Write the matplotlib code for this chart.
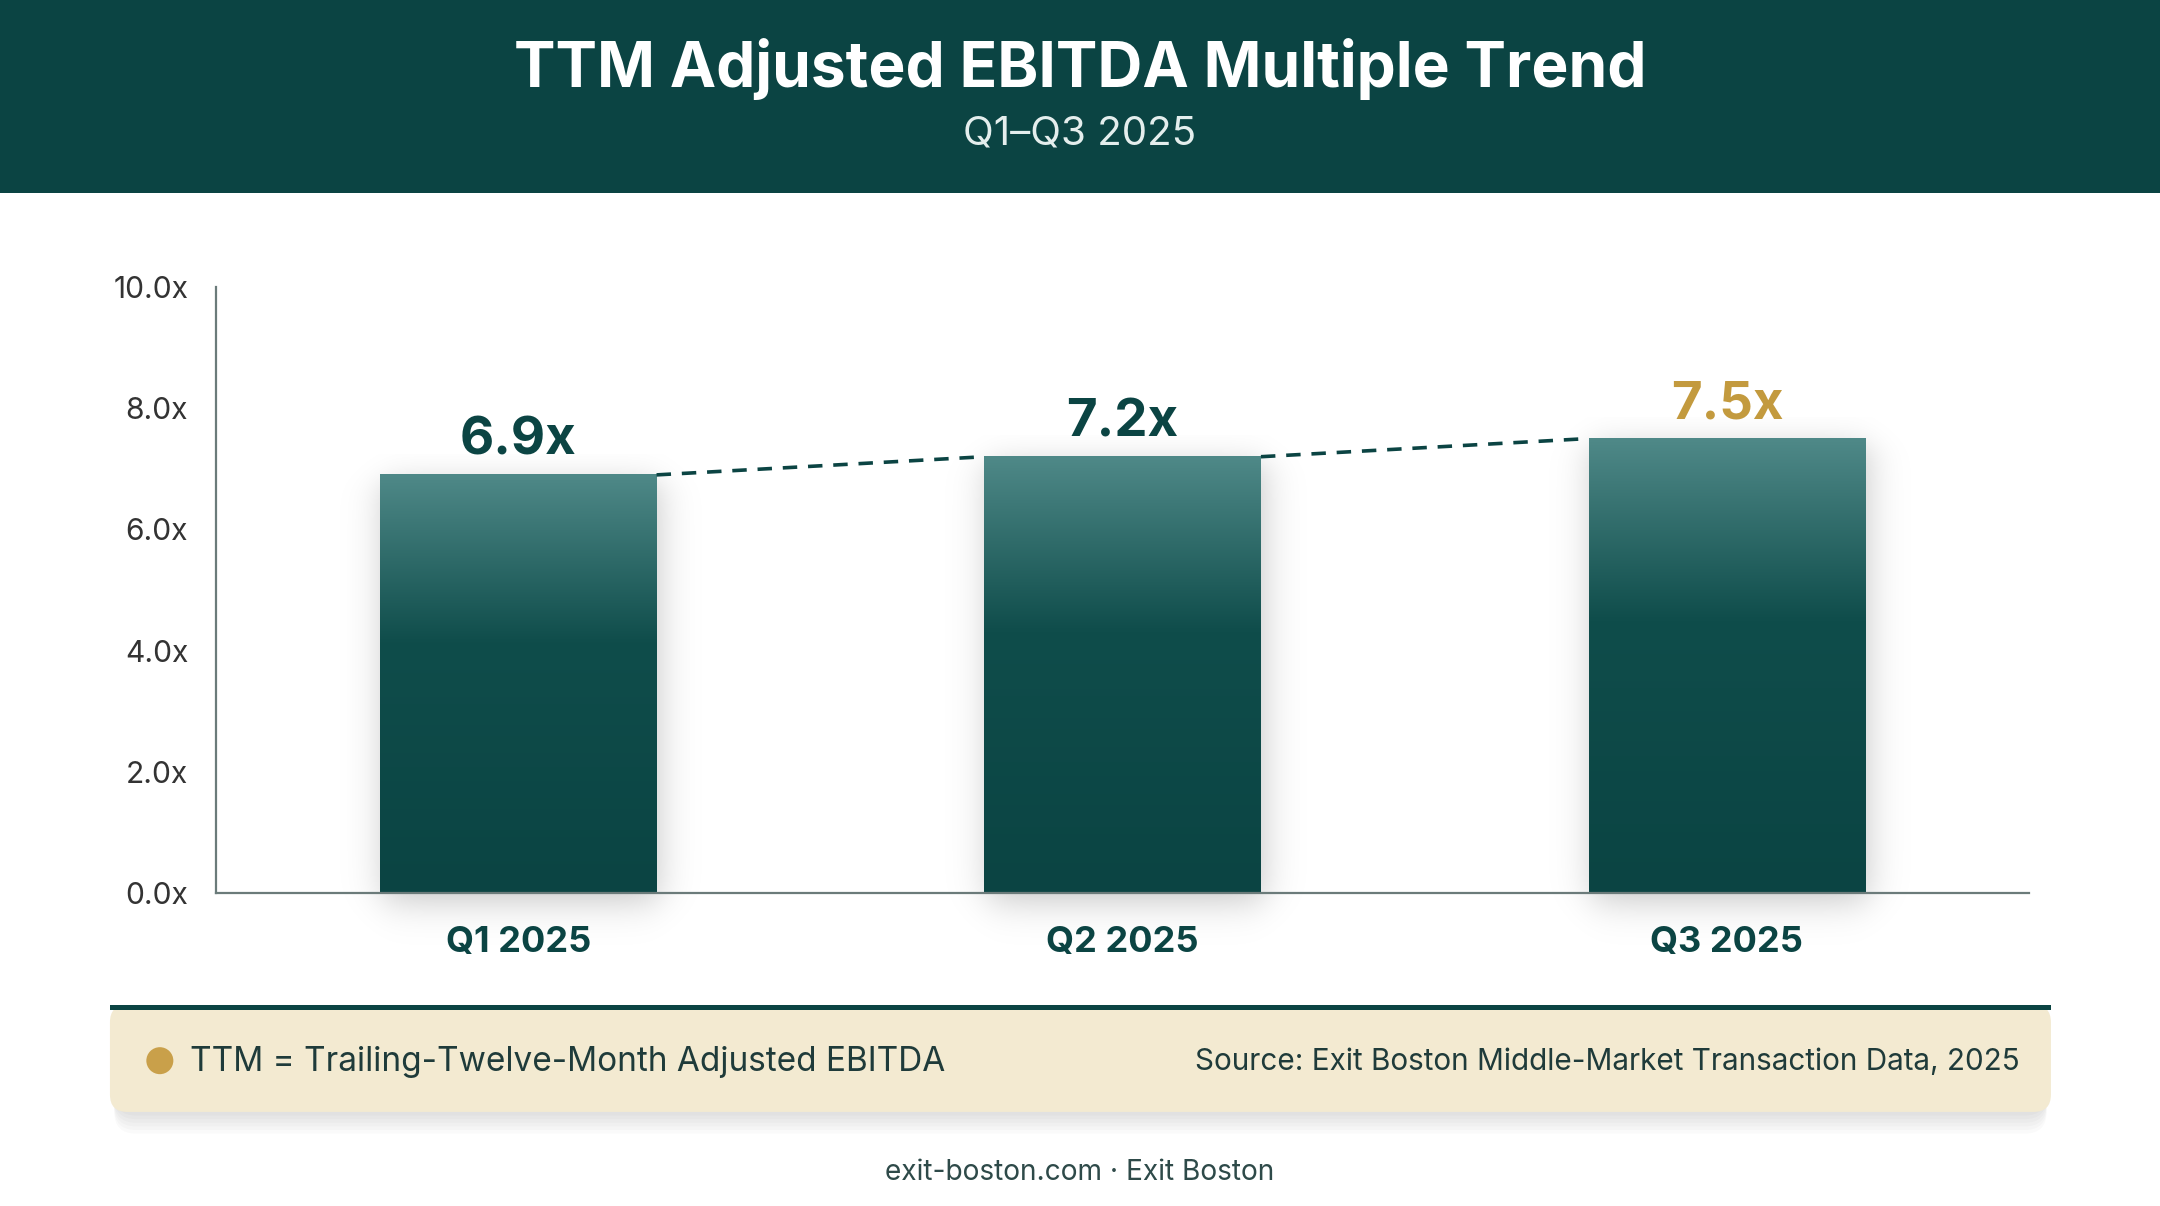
import numpy as np
import matplotlib.pyplot as plt
from matplotlib.colors import LinearSegmentedColormap
from matplotlib.patches import Rectangle, FancyBboxPatch, Ellipse

# Data
quarters = ['Q1 2025', 'Q2 2025', 'Q3 2025']
multiples = [6.9, 7.2, 7.5]
value_labels = ['6.9x', '7.2x', '7.5x']
yticks = [0, 2, 4, 6, 8, 10]
ytick_labels = ['0.0x', '2.0x', '4.0x', '6.0x', '8.0x', '10.0x']

title = 'TTM Adjusted EBITDA Multiple Trend'
subtitle = 'Q1\u2013Q3 2025'
note = 'TTM = Trailing-Twelve-Month Adjusted EBITDA'
source = 'Source: Exit Boston Middle-Market Transaction Data, 2025'
footer = 'exit-boston.com \u00b7 Exit Boston'

# Colours
teal = '#0B4443'
teal_light = '#4F8988'
gold = '#C39A3E'
cream = '#F3EAD1'
text_dark = '#1F3B3A'

plt.rcParams['font.family'] = ['Inter', 'DejaVu Sans']

W, H = 2160, 1206
fig = plt.figure(figsize=(W / 200, H / 200), dpi=200)
fig.patch.set_facecolor('white')

# Header band
fig.add_artist(Rectangle((0, 0.84), 1, 0.16, transform=fig.transFigure,
                         facecolor=teal, edgecolor='none', zorder=0))
fig.text(0.5, 0.943, title, ha='center', va='center', color='white',
         fontsize=22.4, fontweight='bold')
fig.text(0.5, 0.889, subtitle, ha='center', va='center', color='#E4EEED',
         fontsize=14.5)

# Chart
ax = fig.add_axes([0.1, 0.2595, 0.8394, 0.5025])
x = np.arange(len(quarters))
width = 0.458

cmap = LinearSegmentedColormap.from_list(
    'bar', [(0, teal), (0.6, '#0F4D4B'), (1.0, teal_light)])
grad = np.linspace(0, 1, 256).reshape(-1, 1)

def sig(t):
    return 1.0 / (1.0 + np.exp(-t))

for xi, v, lab in zip(x, multiples, value_labels):
    # soft shadow (blurred rectangle drawn as an alpha image)
    ex = 0.09
    y_lo, y_hi = -0.9, v + 0.35
    gx = np.linspace(xi - width / 2 - ex, xi + width / 2 + ex, 200)
    gy = np.linspace(y_lo, y_hi, 300)
    sx = sig((gx - (xi - width / 2 + 0.005)) / 0.018) * sig(((xi + width / 2 + 0.005) - gx) / 0.018)
    sy = sig((gy - (-0.15)) / 0.18) * sig(((v - 0.1) - gy) / 0.15)
    alpha = 0.22 * np.outer(sy, sx)
    shadow = np.zeros((len(gy), len(gx), 4))
    shadow[..., 3] = alpha
    ax.imshow(shadow, extent=[gx[0], gx[-1], y_lo, y_hi], origin='lower',
              aspect='auto', zorder=1, clip_on=False, interpolation='bilinear')
    ax.imshow(grad, extent=[xi - width / 2, xi + width / 2, 0, v],
              origin='lower', cmap=cmap, aspect='auto', zorder=2,
              interpolation='bicubic')
    col = gold if lab == value_labels[-1] else teal
    ax.text(xi, v + 0.15, lab, ha='center', va='bottom', color=col,
            fontsize=19, fontweight='bold', zorder=4)

# dashed trend connectors between bar tops
for i in range(len(x) - 1):
    ax.plot([x[i] + width / 2, x[i + 1] - width / 2],
            [multiples[i], multiples[i + 1]],
            linestyle=(0, (4, 3)), color=teal, lw=1.3, zorder=3)

ax.set_xlim(-0.5, 2.5)
ax.set_ylim(0, 10)
ax.set_yticks(yticks)
ax.set_yticklabels(ytick_labels)
ax.set_xticks(x)
ax.set_xticklabels(quarters, fontweight='bold')
ax.tick_params(axis='y', length=0, pad=10, labelsize=10.8, labelcolor='#333333')
ax.tick_params(axis='x', length=0, pad=12, labelsize=13, labelcolor=teal)
for s in ['top', 'right']:
    ax.spines[s].set_visible(False)
for s in ['left', 'bottom']:
    ax.spines[s].set_color('#6B7B7A')
    ax.spines[s].set_linewidth(0.8)
    ax.spines[s].set_zorder(5)
ax.set_facecolor('none')

# Footer note box with shadow
bx0, by0, bw, bh = 0.0509, 0.078, 0.8986, 0.0887
for k in range(6):
    off = 0.003 * (k + 1)
    fig.add_artist(FancyBboxPatch((bx0 + 0.002, by0 - off), bw - 0.004, bh,
                                  boxstyle='round,pad=0,rounding_size=0.01',
                                  transform=fig.transFigure, facecolor='black',
                                  edgecolor='none', alpha=0.018, zorder=1,
                                  mutation_aspect=1.79))
fig.add_artist(FancyBboxPatch((bx0, by0), bw, bh,
                              boxstyle='round,pad=0,rounding_size=0.008',
                              transform=fig.transFigure, facecolor=cream,
                              edgecolor='none', zorder=2, mutation_aspect=1.79))
fig.add_artist(Rectangle((bx0, by0 + bh - 0.004), bw, 0.004,
                         transform=fig.transFigure, facecolor=teal,
                         edgecolor='none', zorder=3))
fig.add_artist(Ellipse((0.074, 0.1205), 27 / W, 27 / H, transform=fig.transFigure,
                       facecolor='#C9A04A', edgecolor='none', zorder=3))
fig.text(0.088, 0.1195, note, ha='left', va='center', color=text_dark,
         fontsize=12, zorder=4)
fig.text(0.935, 0.1195, source, ha='right', va='center', color=text_dark,
         fontsize=10.7, zorder=4)

fig.text(0.5, 0.0275, footer, ha='center', va='center', color='#2E4A49',
         fontsize=10.1)

fig.savefig('out.png', dpi=200, facecolor='white')
